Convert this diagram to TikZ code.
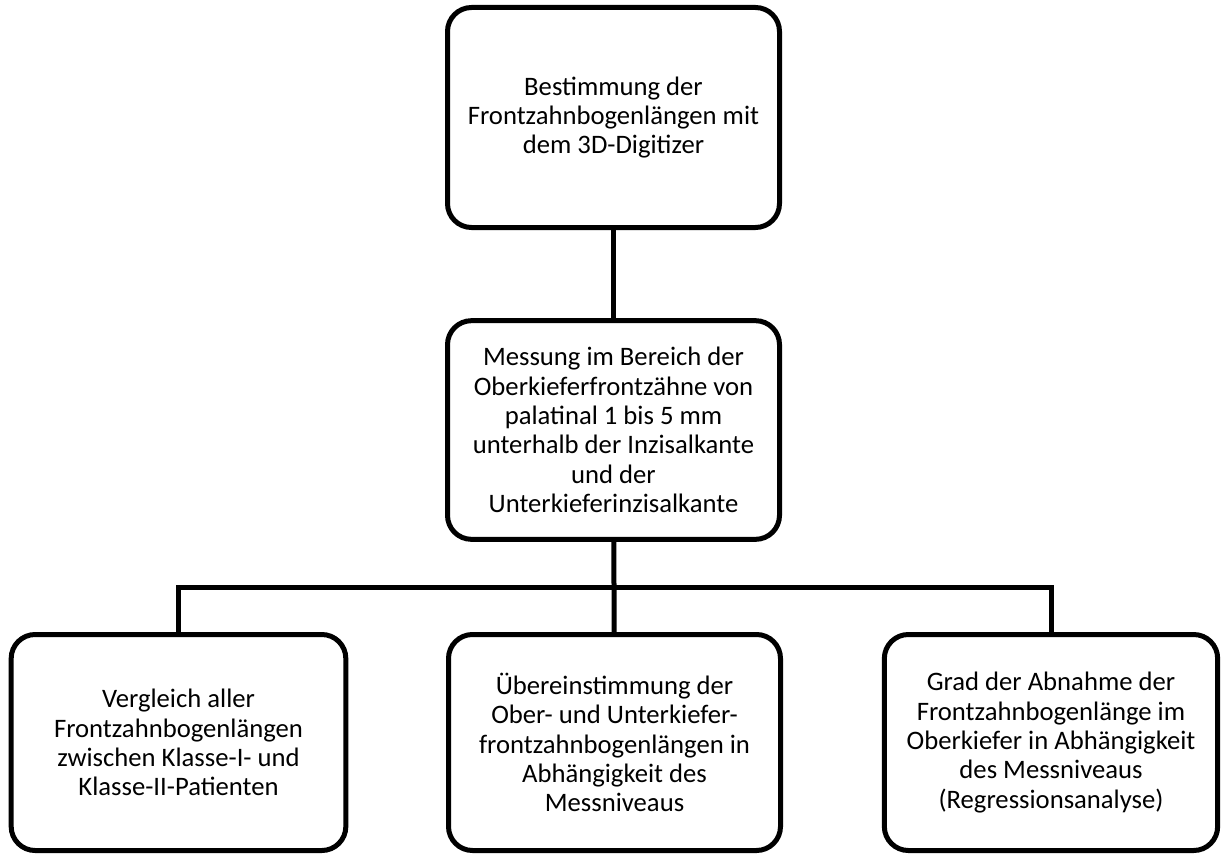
\documentclass[tikz,border=0pt]{standalone}
\usepackage{fontspec}
\setmainfont{Carlito}
\usetikzlibrary{positioning}

\begin{document}
\begin{tikzpicture}[x=0.75pt,y=-0.75pt,
    line width=3.75pt,
    stepbox/.style={draw, rounded corners=18pt, align=center,
      minimum width=249pt, minimum height=165pt, inner sep=0pt,
      font=\fontsize{20}{22}\selectfont}]
          \useasboundingbox (0,0) rectangle (1227,856);
          \node[stepbox] at (613.5,117.5) (digitizer)
          {Bestimmung der\\Frontzahnbogenlängen mit\\dem 3D-Digitizer};
          \node[stepbox, minimum height=164pt] at (613.5,430) (messung)
          {Messung im Bereich der\\Oberkieferfrontzähne von\\palatinal 1 bis 5 mm\\unterhalb der Inzisalkante\\und der\\Unterkieferinzisalkante};
          \node[stepbox, minimum height=162pt, minimum width=251pt] at (178.5,742.5) (vergleich)
          {Vergleich aller\\Frontzahnbogenlängen\\zwischen Klasse-I- und\\Klasse-II-Patienten};
          \node[stepbox, minimum height=162pt] at (614.5,742.5) (uebereinst)
          {Übereinstimmung der\\Ober- und Unterkiefer-\\frontzahnbogenlängen in\\Abhängigkeit des\\Messniveaus};
          \node[stepbox, minimum height=162pt, minimum width=250pt] at (1051,742.5) (abnahme)
          {Grad der Abnahme der\\Frontzahnbogenlänge im\\Oberkiefer in Abhängigkeit\\des Messniveaus\\(Regressionsanalyse)};
          \coordinate (bar) at (613.5,587);
          \draw (digitizer) -- (messung);
          \draw (messung) -- (uebereinst);
          \draw (vergleich.north) |- (bar) -| (abnahme.north);
        \end{tikzpicture}
\end{document}
